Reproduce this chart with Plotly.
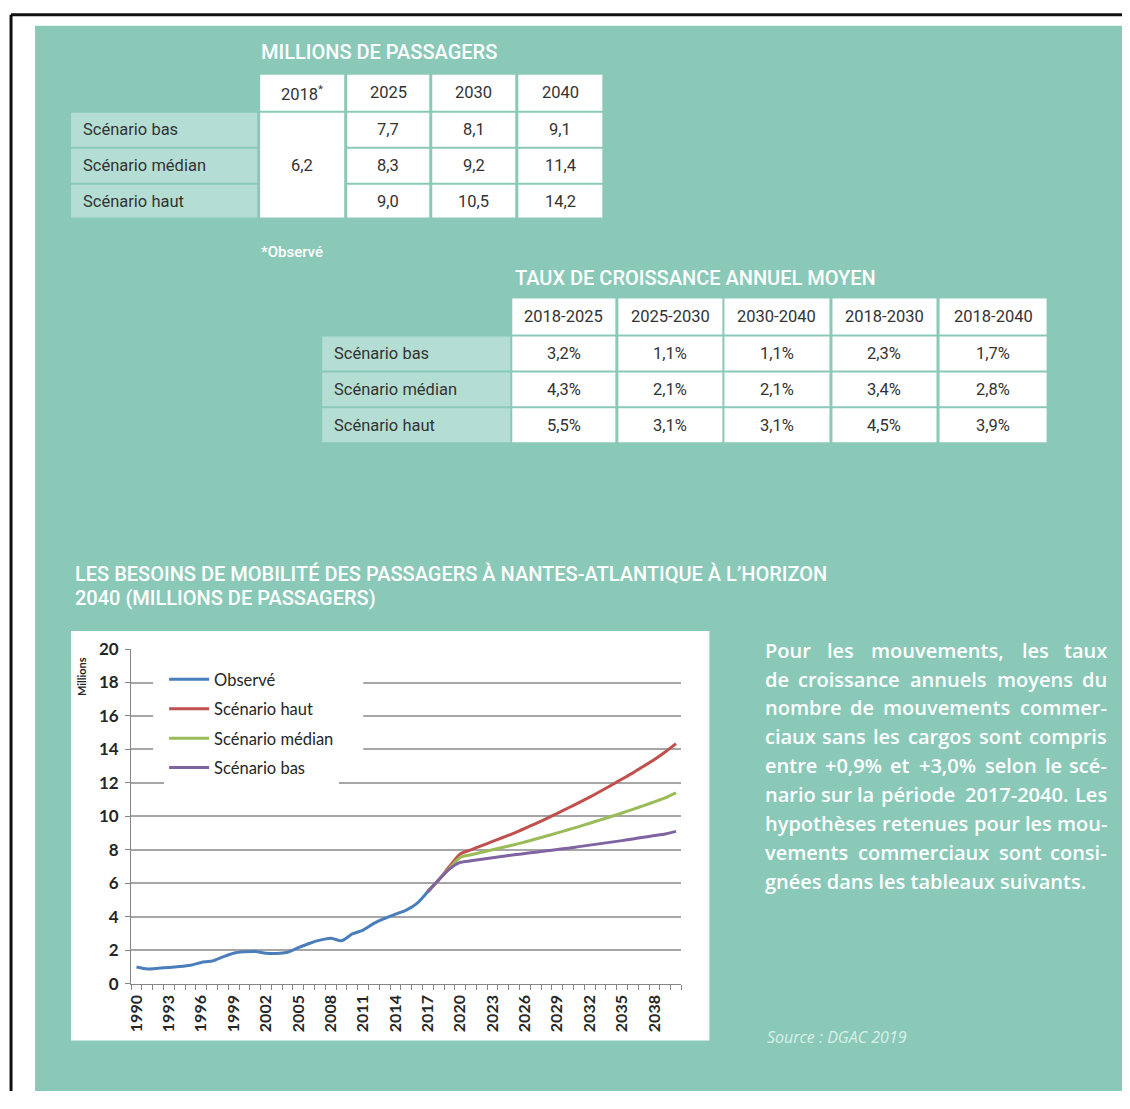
import plotly.graph_objects as go

# placement: reference pixel -> page pixel (measured correction) -> figure paper fraction
OFF = 8
W, H = 1114, 1093
SX, TX = 0.995, 4.0
SY, TY = 0.982, 9.3

# ---------------- data ----------------
obs_years = list(range(1990, 2019))
observe = [1.0, 0.88, 0.92, 0.97, 1.02, 1.1, 1.27, 1.35, 1.6, 1.82,
           1.9, 1.92, 1.82, 1.8, 1.88, 2.15, 2.4, 2.6, 2.72, 2.56,
           2.97, 3.2, 3.6, 3.9, 4.15, 4.4, 4.8, 5.5, 6.2]

scen_years = list(range(2017, 2041))
haut = [5.5, 6.2, 7.0, 7.75, 8.0, 8.25, 8.5, 8.75, 9.0, 9.28, 9.57, 9.87,
        10.18, 10.5, 10.82, 11.15, 11.5, 11.86, 12.23, 12.6, 13.0, 13.4, 13.85, 14.35]
median = [5.5, 6.2, 6.9, 7.55, 7.7, 7.85, 8.0, 8.15, 8.3, 8.47, 8.65, 8.83,
          9.01, 9.2, 9.39, 9.59, 9.79, 9.99, 10.2, 10.42, 10.64, 10.87, 11.1, 11.4]
bas = [5.5, 6.2, 6.85, 7.25, 7.34, 7.43, 7.52, 7.61, 7.7, 7.78, 7.86, 7.94,
       8.02, 8.1, 8.19, 8.28, 8.37, 8.46, 8.55, 8.65, 8.75, 8.85, 8.95, 9.1]

tick_years = list(range(1990, 2039, 3))
all_years = list(range(1990, 2041))

series_names = ["Observé", "Scénario haut", "Scénario médian", "Scénario bas"]

table1_title = "MILLIONS DE PASSAGERS"
table1_cols = ["2018<sup>*</sup>", "2025", "2030", "2040"]
scenarios = ["Scénario bas", "Scénario médian", "Scénario haut"]
observed_2018 = 6.2
pass_bas = [7.7, 8.1, 9.1]
pass_median = [8.3, 9.2, 11.4]
pass_haut = [9.0, 10.5, 14.2]

table2_title = "TAUX DE CROISSANCE ANNUEL MOYEN"
periods = ["2018-2025", "2025-2030", "2030-2040", "2018-2030", "2018-2040"]
rate_bas = [3.2, 1.1, 1.1, 2.3, 1.7]
rate_median = [4.3, 2.1, 2.1, 3.4, 2.8]
rate_haut = [5.5, 3.1, 3.1, 4.5, 3.9]

chart_title = ["LES BESOINS DE MOBILITÉ DES PASSAGERS À NANTES-ATLANTIQUE À L’HORIZON",
               "2040 (MILLIONS DE PASSAGERS)"]
paragraph = ["Pour les mouvements, les taux",
             "de croissance annuels moyens du",
             "nombre de mouvements commer-",
             "ciaux sans les cargos sont compris",
             "entre +0,9% et +3,0% selon le scé-",
             "nario sur la période 2017-2040. Les",
             "hypothèses retenues pour les mou-",
             "vements commerciaux sont consi-",
             "gnées dans les tableaux suivants."]
source_text = "Source : DGAC 2019"
footnote = "*Observé"

# ---------------- styles ----------------
TEAL = "#8AC9B8"
LABEL_BG = "#B4DED3"
DARK = "#333333"
C_OBS, C_HAUT, C_MED, C_BAS = "#4A7EBB", "#C0504D", "#9BBB59", "#8064A2"
TFONT = "Roboto"
CFONT = "Lato"
TITLE_SIZE = 20


def px(x):
    return ((x - TX) / SX - OFF) / W


def py(y):
    return 1 - ((y - TY) / SY - OFF) / H


def clip(v):
    return min(1.0, max(0.0, v))


shapes = []
annotations = []


def rect(x0, y0, x1, y1, color, layer="below"):
    shapes.append(dict(type="rect", xref="paper", yref="paper",
                       x0=clip(px(x0)), x1=clip(px(x1)), y0=clip(py(y1)), y1=clip(py(y0)),
                       fillcolor=color, line=dict(width=0), layer=layer))


def text(x, y, s, size, color=DARK, anchor="left", family=TFONT, weight=400, style="normal"):
    annotations.append(dict(xref="paper", yref="paper", x=px(x), y=py(y), text=s,
                            showarrow=False, xanchor=anchor, yanchor="middle",
                            font=dict(size=size, color=color, family=family,
                                      weight=weight, style=style)))


def fmt(v):
    return f"{v:.1f}".replace(".", ",")


# frame + background
shapes.append(dict(type="line", xref="paper", yref="paper", x0=px(10), x1=px(10),
                   y0=0, y1=py(13), line=dict(color="#111111", width=3), layer="below"))
shapes.append(dict(type="line", xref="paper", yref="paper", x0=px(10), x1=1,
                   y0=py(13), y1=py(13), line=dict(color="#111111", width=3), layer="below"))
rect(34, 24, 1126, 1093, TEAL)

# ---------------- table 1 ----------------
text(258, 50, table1_title, TITLE_SIZE, "white", weight=500)
t1_cols = [(259, 343), (346, 428), (431, 514), (517, 601)]
hdr = (73, 109)
rows1 = [(111, 145), (147, 181), (183, 216)]
for (c0, c1), lab in zip(t1_cols, table1_cols):
    rect(c0, hdr[0], c1, hdr[1], "white")
    text((c0 + c1) / 2, (hdr[0] + hdr[1]) / 2, lab, 16.5, anchor="center")
rect(t1_cols[0][0], rows1[0][0], t1_cols[0][1], rows1[-1][1], "white")
text((t1_cols[0][0] + t1_cols[0][1]) / 2, (rows1[0][0] + rows1[-1][1]) / 2,
     fmt(observed_2018), 16.5, anchor="center")
for (r0, r1), lab, vals in zip(rows1, scenarios, [pass_bas, pass_median, pass_haut]):
    rect(70, r0, 256, r1, LABEL_BG)
    text(80, (r0 + r1) / 2, lab, 16.5)
    for (c0, c1), v in zip(t1_cols[1:], vals):
        rect(c0, r0, c1, r1, "white")
        text((c0 + c1) / 2, (r0 + r1) / 2, fmt(v), 16.5, anchor="center")
text(258, 250, footnote, 15, "white", weight=500)

# ---------------- table 2 ----------------
text(512, 276, table2_title, TITLE_SIZE, "white", weight=500)
t2_cols = [(511, 614), (617, 721), (723, 828), (831, 935), (938, 1045)]
hdr2 = (297, 333)
rows2 = [(335, 369), (371, 405), (407, 441)]
for (c0, c1), lab in zip(t2_cols, periods):
    rect(c0, hdr2[0], c1, hdr2[1], "white")
    text((c0 + c1) / 2, (hdr2[0] + hdr2[1]) / 2, lab, 16.5, anchor="center")
for (r0, r1), lab, vals in zip(rows2, scenarios, [rate_bas, rate_median, rate_haut]):
    rect(321, r0, 509, r1, LABEL_BG)
    text(331, (r0 + r1) / 2, lab, 16.5)
    for (c0, c1), v in zip(t2_cols, vals):
        rect(c0, r0, c1, r1, "white")
        text((c0 + c1) / 2, (r0 + r1) / 2, fmt(v) + "%", 16.5, anchor="center")

# ---------------- chart title + white box ----------------
text(72, 573, chart_title[0], TITLE_SIZE, "white", weight=500)
text(72, 597, chart_title[1], TITLE_SIZE, "white", weight=500)
rect(70, 630, 708, 1040, "white")
# white backing of the legend (hides the gridlines behind it, as in the reference)
rect(152, 664, 362, 776, "white", layer="above")
annotations.append(dict(xref="paper", yref="paper", x=px(80), y=py(676), text="Millions",
                        showarrow=False, textangle=-90, xanchor="center", yanchor="middle",
                        font=dict(size=11, color="#262626", family=CFONT, weight=700)))

# ---------------- paragraph (justified) ----------------
CW = {'a': .556, 'b': .613, 'c': .476, 'd': .613, 'e': .561, 'é': .561, 'è': .561,
      'f': .339, 'g': .548, 'h': .614, 'i': .253, 'j': .253, 'k': .525, 'l': .253,
      'm': .93, 'n': .614, 'o': .604, 'p': .613, 'q': .613, 'r': .408, 's': .477,
      't': .353, 'u': .614, 'v': .501, 'w': .778, 'x': .524, 'y': .502, 'z': .477,
      ',': .244, '.': .266, '%': .826, '+': .572, '-': .322, 'L': .502, 'P': .603}
PSIZE = 20
PX0, PX1 = 762, 1107


def wlen(s):
    return sum(CW.get(c, .572) for c in s) * PSIZE * 1.06


for i, line in enumerate(paragraph):
    yy = 649 + 29 * i
    if i == len(paragraph) - 1:
        text(PX0, yy, line, PSIZE, "white", family="Open Sans", weight=600)
        continue
    words = line.split(" ")
    ws = [wlen(w) for w in words]
    gap = (PX1 - PX0 - sum(ws)) / (len(words) - 1)
    x = PX0
    for j, (w, wl) in enumerate(zip(words, ws)):
        if j == 0:
            text(PX0, yy, w, PSIZE, "white", family="Open Sans", weight=600)
        elif j == len(words) - 1:
            text(PX1, yy, w, PSIZE, "white", anchor="right", family="Open Sans", weight=600)
        else:
            text(x + wl / 2, yy, w, PSIZE, "white", anchor="center", family="Open Sans", weight=600)
        x += wl + gap

text(764, 1036, source_text, 16, "rgba(235,247,243,0.85)", family="Open Sans", style="italic")

# ---------------- chart ----------------
fig = go.Figure()
for name, xs, ys, col in [(series_names[0], obs_years, observe, C_OBS),
                          (series_names[1], scen_years, haut, C_HAUT),
                          (series_names[2], scen_years, median, C_MED),
                          (series_names[3], scen_years, bas, C_BAS)]:
    fig.add_trace(go.Scatter(x=xs, y=ys, mode="lines", name=name, legendgroup=name,
                             line=dict(color=col, width=3, shape="spline", smoothing=0.6)))

fig.update_layout(
    width=W, height=H, autosize=False,
    margin=dict(l=0, r=0, t=0, b=0),
    paper_bgcolor="white", plot_bgcolor="rgba(0,0,0,0)",
    shapes=shapes, annotations=annotations,
    showlegend=True,
    legend=dict(x=px(163), y=py(661), xanchor="left", yanchor="top",
                bgcolor="white", borderwidth=0, traceorder="grouped", tracegroupgap=5,
                itemwidth=40,
                font=dict(family=CFONT, size=16.5, color="#262626")),
    xaxis=dict(domain=[px(130), px(680)], range=[1989.5, 2040.5],
               tickmode="array", tickvals=tick_years, ticktext=[str(y) for y in tick_years],
               tickangle=-90, ticks="", showgrid=False, zeroline=False,
               showline=True, linecolor="#868686", linewidth=1,
               ticklabelstandoff=4,
               tickfont=dict(family=CFONT, size=16, color="#262626", weight=700),
               minor=dict(tickmode="array", tickvals=[y - 0.5 for y in all_years + [2041]],
                          ticks="outside", ticklen=5, tickcolor="#868686", showgrid=False)),
    yaxis=dict(domain=[py(983), py(648)], range=[0, 20], dtick=2,
               showgrid=True, gridcolor="#A6A6A6", gridwidth=1.5, zeroline=False,
               showline=True, linecolor="#868686", linewidth=1,
               ticks="outside", ticklen=5, tickcolor="#868686", ticklabelstandoff=3,
               tickfont=dict(family=CFONT, size=17, color="#262626", weight=700)),
)

fig.write_html("out.html")
